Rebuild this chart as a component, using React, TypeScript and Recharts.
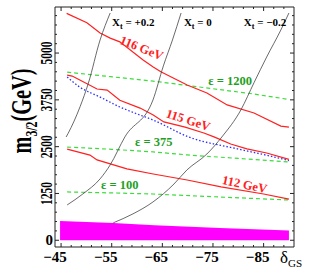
import React from "react"
import { ComposedChart, Line, Area, XAxis, YAxis, ReferenceDot } from "recharts"

type Pt = [number, number] // [delta_GS, m_3/2 in GeV]

// Higgs mass contours
const higgs116: Pt[] = [
  [-46.1, 6060], [-50.1, 5810], [-52.7, 5535], [-54.7, 5400], [-56.6, 5300],
  [-61.2, 4815], [-63.2, 4630], [-64.7, 4500], [-69.9, 4145], [-73.8, 3935],
  [-77.8, 3615], [-83.1, 3400], [-88.4, 3050], [-90.0, 3020],
]
const higgs115: Pt[] = [
  [-46.2, 4410], [-47.2, 4385], [-48.7, 4280], [-52.1, 4040], [-54.1, 4010],
  [-56.6, 3740], [-60.6, 3530], [-63.2, 3345], [-65.3, 3160], [-69.5, 3020],
  [-73.2, 2865], [-75.2, 2760], [-78.5, 2570], [-81.7, 2440], [-85.6, 2330],
  [-90.0, 2160],
]
const higgs112: Pt[] = [
  [-46.2, 2435], [-50.7, 2275], [-52.1, 2145], [-58.0, 1905], [-63.2, 1770],
  [-69.9, 1610], [-76.6, 1425], [-85.0, 1235], [-90.0, 1100],
]
// blue dotted boundary
const boundary: Pt[] = [
  [-46.2, 4360], [-48.7, 4090], [-52.7, 3825], [-56.6, 3560], [-60.6, 3345],
  [-63.2, 3210], [-70.2, 2760], [-79.7, 2445], [-85.6, 2270], [-90.0, 2130],
]
// fine tuning contours
const eps1200: Pt[] = [[-46.2, 4490], [-54.7, 4370], [-63.2, 4250], [-73.1, 4080], [-83.1, 3905], [-90.0, 3760]]
const eps375: Pt[] = [[-46.2, 2490], [-55.0, 2430], [-63.2, 2360], [-69.9, 2280], [-80.0, 2185], [-90.0, 2090]]
const eps100: Pt[] = [[-46.2, 1290], [-55.0, 1265], [-63.2, 1235], [-76.4, 1155], [-90.0, 1075]]
// stop mixing X_t contours
const xtPlus02: Pt[] = [[-46.0, 2758], [-46.4, 2857], [-48.75, 3566], [-50.4, 4200], [-52.7, 5348], [-54.7, 6070]]
const xtZero: Pt[] = [
  [-46.2, 943], [-49.3, 1237], [-52.7, 1639], [-54.7, 2013], [-57.6, 2760],
  [-63.15, 3748], [-65.2, 4656], [-67.0, 5350], [-68.7, 6070],
]
const xtMinus02: Pt[] = [
  [-55.3, 465], [-59.2, 705], [-63.15, 1023], [-67.3, 1503], [-69.85, 1877],
  [-73.8, 2304], [-76.75, 2758], [-80.5, 3479], [-83.1, 4207], [-85.6, 4894],
  [-88.4, 5615], [-90.0, 6070],
]
// excluded region (magenta)
const excluded: Pt[] = [[-44.8, 515], [-55.3, 462], [-63.4, 400], [-76.4, 328], [-90.0, 262]]

const xTicks = [-45, -47, -49, -51, -53, -55, -57, -59, -61, -63, -65, -67, -69, -71, -73, -75, -77, -79, -81, -83, -85, -87, -89]
const yTicks = Array.from({ length: 25 }, (_, i) => i * 250)

const rows = (pts: Pt[]) => pts.map(([d, m]) => ({ d, m }))

const SERIF = "'Liberation Serif', 'Times New Roman', serif"
const FRAME = "#222"
const RED = "#ff2020"
const GREEN_LINE = "#3ddc3d"
const GREEN_TEXT = "#1f9f1f"

const isMajorX = (v: number) => Math.abs(v + 45) % 10 === 0
const isMajorY = (v: number) => v % 1250 === 0

const BottomTick = ({ x, y, payload }: any) => {
  const v = payload.value
  const major = isMajorX(v)
  return (
    <g>
      <line x1={x} x2={x} y1={y} y2={y - (major ? 4 : 2)} stroke={FRAME} />
      {major && (
        <text x={x - 6} y={y + 15} textAnchor="middle" fontFamily={SERIF} fontWeight="bold" fontSize={15} fill="#000">
          {"\u2212" + Math.abs(v)}
        </text>
      )}
    </g>
  )
}

const TopTick = ({ x, y, payload }: any) => (
  <line x1={x} x2={x} y1={y} y2={y + (isMajorX(payload.value) ? 4 : 2)} stroke={FRAME} />
)

const LeftTick = ({ x, y, payload }: any) => {
  const v = payload.value
  const major = isMajorY(v)
  return (
    <g>
      <line x1={x} x2={x + (major ? 4 : 2)} y1={y} y2={y} stroke={FRAME} />
      {major && v === 0 && (
        <text x={x - 2} y={y + 5} textAnchor="end" fontFamily={SERIF} fontWeight="bold" fontSize={15} fill="#000">
          0
        </text>
      )}
      {major && v !== 0 && (
        <text
          transform={`translate(${x - 3.5},${y}) rotate(-90) scale(0.68,1)`}
          textAnchor="middle"
          fontFamily={SERIF}
          fontWeight="bold"
          fontSize={17}
          fill="#000"
        >
          {v}
        </text>
      )}
    </g>
  )
}

const RightTick = ({ x, y, payload }: any) => (
  <line x1={x} x2={x - (isMajorY(payload.value) ? 4 : 2)} y1={y} y2={y} stroke={FRAME} />
)

const YTitle = ({ viewBox }: any) => {
  const cx = viewBox.x + 31
  const cy = viewBox.y + viewBox.height / 2 - 16
  return (
    <text
      transform={`translate(${cx},${cy}) rotate(-90) scale(0.7,1)`}
      textAnchor="middle"
      fontFamily={SERIF}
      fontWeight="bold"
      fontSize={29}
      fill="#000"
    >
      m<tspan fontSize={17} dy={6}>3/2</tspan>
      <tspan dy={-6}>(GeV)</tspan>
    </text>
  )
}

const XTitle = ({ viewBox }: any) => (
  <text x={viewBox.x + viewBox.width - 14} y={viewBox.y + 16} fontFamily={SERIF} fontSize={17} fill="#000">
    δ<tspan fontSize={11} dy={4}>GS</tspan>
  </text>
)

// in-plot annotations, placed in data coordinates
const xtNotes = [
  { d: -55.06, m: 5710, text: "+0.2" },
  { d: -69.26, m: 5710, text: "0" },
  { d: -81.1, m: 5710, text: "\u22120.2" },
]
const higgsNotes = [
  { d: -60.6, m: 5030, text: "116 GeV", angle: 22 },
  { d: -69.85, m: 3105, text: "115 GeV", angle: 18 },
  { d: -81.1, m: 1383, text: "112 GeV", angle: 12 },
]
const epsNotes = [
  { d: -78.4, m: 4160, text: "ε = 1200" },
  { d: -63.3, m: 2505, text: "ε = 375" },
  { d: -56.6, m: 1356, text: "ε = 100" },
]

const axisIds = { xAxisId: "b", yAxisId: "l" }

export default function App() {
  return (
    <div style={{ position: "absolute", left: 0, top: 0, background: "#fff" }}>
      <ComposedChart width={309} height={274} margin={{ top: 0, right: 0, bottom: 0, left: 0 }}>
        <XAxis
          xAxisId="b"
          dataKey="d"
          type="number"
          domain={[-91, -43.8]}
          reversed
          allowDataOverflow
          ticks={xTicks}
          interval={0}
          height={27}
          tickSize={0}
          tickMargin={0}
          tickLine={false}
          axisLine={{ stroke: FRAME }}
          tick={BottomTick}
          label={XTitle}
        />
        <XAxis
          xAxisId="t"
          orientation="top"
          dataKey="d"
          type="number"
          domain={[-91, -43.8]}
          reversed
          allowDataOverflow
          ticks={xTicks}
          interval={0}
          height={7}
          tickSize={0}
          tickMargin={0}
          tickLine={false}
          axisLine={{ stroke: FRAME }}
          tick={TopTick}
        />
        <YAxis
          yAxisId="l"
          type="number"
          domain={[-180, 6230]}
          allowDataOverflow
          ticks={yTicks}
          interval={0}
          width={55}
          tickSize={0}
          tickMargin={0}
          tickLine={false}
          axisLine={{ stroke: FRAME }}
          tick={LeftTick}
          label={YTitle}
        />
        <YAxis
          yAxisId="r"
          orientation="right"
          type="number"
          domain={[-180, 6230]}
          allowDataOverflow
          ticks={yTicks}
          interval={0}
          width={15}
          tickSize={0}
          tickMargin={0}
          tickLine={false}
          axisLine={{ stroke: FRAME }}
          tick={RightTick}
        />

        <Area {...axisIds} data={rows(excluded)} dataKey="m" type="linear" fill="#ff00ff" fillOpacity={1} stroke="none" isAnimationActive={false} />

        <Line {...axisIds} data={rows(eps1200)} dataKey="m" type="linear" stroke={GREEN_LINE} strokeWidth={1.2} strokeDasharray="4 3" dot={false} isAnimationActive={false} />
        <Line {...axisIds} data={rows(eps375)} dataKey="m" type="linear" stroke={GREEN_LINE} strokeWidth={1.2} strokeDasharray="4 3" dot={false} isAnimationActive={false} />
        <Line {...axisIds} data={rows(eps100)} dataKey="m" type="linear" stroke={GREEN_LINE} strokeWidth={1.2} strokeDasharray="4 3" dot={false} isAnimationActive={false} />

        <Line {...axisIds} data={rows(boundary)} dataKey="m" type="monotone" stroke="#3030ff" strokeWidth={1.3} strokeDasharray="1.5 2" dot={false} isAnimationActive={false} />

        <Line {...axisIds} data={rows(higgs116)} dataKey="m" type="linear" stroke={RED} strokeWidth={1.2} dot={false} isAnimationActive={false} />
        <Line {...axisIds} data={rows(higgs115)} dataKey="m" type="linear" stroke={RED} strokeWidth={1.2} dot={false} isAnimationActive={false} />
        <Line {...axisIds} data={rows(higgs112)} dataKey="m" type="linear" stroke={RED} strokeWidth={1.2} dot={false} isAnimationActive={false} />

        <Line {...axisIds} data={rows(xtPlus02)} dataKey="m" type="monotone" stroke="#444" strokeWidth={0.8} dot={false} isAnimationActive={false} />
        <Line {...axisIds} data={rows(xtZero)} dataKey="m" type="monotone" stroke="#444" strokeWidth={0.8} dot={false} isAnimationActive={false} />
        <Line {...axisIds} data={rows(xtMinus02)} dataKey="m" type="monotone" stroke="#444" strokeWidth={0.8} dot={false} isAnimationActive={false} />

        {xtNotes.map((n) => (
          <ReferenceDot
            key={n.text}
            {...axisIds}
            x={n.d}
            y={n.m}
            r={0}
            ifOverflow="visible"
            shape={(p: any) => (
              <text x={p.cx} y={p.cy} fontFamily={SERIF} fontWeight="bold" fontSize={11} fill="#000">
                X<tspan fontSize={8} dy={3}>t</tspan>
                <tspan dy={-3}>{" = " + n.text}</tspan>
              </text>
            )}
          />
        ))}
        {higgsNotes.map((n) => (
          <ReferenceDot
            key={n.text}
            {...axisIds}
            x={n.d}
            y={n.m}
            r={0}
            ifOverflow="visible"
            shape={(p: any) => (
              <text
                x={p.cx}
                y={p.cy}
                transform={`rotate(${n.angle} ${p.cx} ${p.cy})`}
                textAnchor="middle"
                fontFamily={SERIF}
                fontWeight="bold"
                fontSize={12.5}
                fill={RED}
              >
                {n.text}
              </text>
            )}
          />
        ))}
        {epsNotes.map((n) => (
          <ReferenceDot
            key={n.text}
            {...axisIds}
            x={n.d}
            y={n.m}
            r={0}
            ifOverflow="visible"
            shape={(p: any) => (
              <text x={p.cx} y={p.cy} textAnchor="middle" fontFamily={SERIF} fontWeight="bold" fontSize={12.5} fill={GREEN_TEXT}>
                {n.text}
              </text>
            )}
          />
        ))}
      </ComposedChart>
    </div>
  )
}
